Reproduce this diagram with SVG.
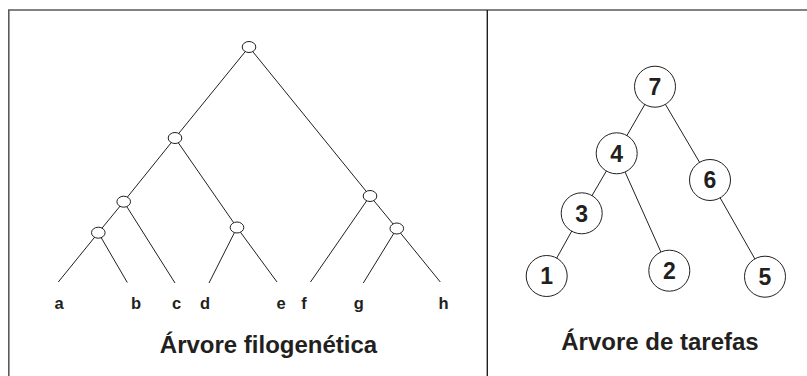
<svg xmlns="http://www.w3.org/2000/svg" width="807" height="376" viewBox="0 0 807 376">
  <style>
    .frame { fill: none; stroke: #5a5a5a; stroke-width: 1.6; }
    .divider { fill: none; stroke: #231f20; stroke-width: 1.4; }
    .edge { stroke: #231f20; stroke-width: 1; fill: none; }
    .pnode { fill: #ffffff; stroke: #231f20; stroke-width: 1; }
    .tnode { fill: #ffffff; stroke: #231f20; stroke-width: 1; }
    .leaf { font-family: "Liberation Sans", Arial, sans-serif; font-weight: bold; font-size: 16.5px; fill: #231f20; text-anchor: middle; }
    .num { font-family: "Liberation Sans", Arial, sans-serif; font-weight: bold; font-size: 23px; fill: #231f20; text-anchor: middle; }
    .caption { font-family: "Liberation Sans", Arial, sans-serif; font-weight: bold; font-size: 24px; fill: #231f20; text-anchor: middle; }
  </style>
  <rect width="807" height="376" fill="#ffffff"/>

  <!-- panel frame -->
  <g id="frame">
    <path class="frame" d="M8.8,376 V10 H807"/>
    <line class="divider" x1="487.3" y1="10" x2="487.3" y2="376"/>
  </g>

  <!-- phylogenetic tree: branches -->
  <g id="phylo-edges">
    <line class="edge" x1="249" y1="47" x2="175" y2="138"/>
    <line class="edge" x1="249" y1="47" x2="370" y2="196"/>
    <line class="edge" x1="175" y1="138" x2="123.7" y2="201.7"/>
    <line class="edge" x1="175" y1="138" x2="237" y2="227.5"/>
    <line class="edge" x1="123.7" y1="201.7" x2="98.3" y2="232.7"/>
    <line class="edge" x1="123.7" y1="201.7" x2="175" y2="283"/>
    <line class="edge" x1="98.3" y1="232.7" x2="58.3" y2="282"/>
    <line class="edge" x1="98.3" y1="232.7" x2="127.3" y2="282.5"/>
    <line class="edge" x1="237" y1="227.5" x2="209" y2="283"/>
    <line class="edge" x1="237" y1="227.5" x2="277" y2="282"/>
    <line class="edge" x1="370" y1="196" x2="310.5" y2="282"/>
    <line class="edge" x1="370" y1="196" x2="396.8" y2="228.5"/>
    <line class="edge" x1="396.8" y1="228.5" x2="363.3" y2="283"/>
    <line class="edge" x1="396.8" y1="228.5" x2="440.3" y2="282"/>
  </g>

  <!-- phylogenetic tree: internal nodes -->
  <g id="p-root"><ellipse class="pnode" cx="249" cy="47" rx="6.8" ry="5.5"/></g>
  <g id="p-abcde"><ellipse class="pnode" cx="175" cy="138" rx="6.8" ry="5.5"/></g>
  <g id="p-abc"><ellipse class="pnode" cx="123.7" cy="201.7" rx="6.8" ry="5.5"/></g>
  <g id="p-ab"><ellipse class="pnode" cx="98.3" cy="232.7" rx="6.8" ry="5.5"/></g>
  <g id="p-de"><ellipse class="pnode" cx="237" cy="227.5" rx="6.8" ry="5.5"/></g>
  <g id="p-fgh"><ellipse class="pnode" cx="370" cy="196" rx="6.8" ry="5.5"/></g>
  <g id="p-gh"><ellipse class="pnode" cx="396.8" cy="228.5" rx="6.8" ry="5.5"/></g>

  <!-- phylogenetic tree: leaf labels -->
  <g id="p-leaves">
    <text class="leaf" x="59" y="309">a</text>
    <text class="leaf" x="136" y="309">b</text>
    <text class="leaf" x="176.5" y="309">c</text>
    <text class="leaf" x="205" y="309">d</text>
    <text class="leaf" x="281" y="309">e</text>
    <text class="leaf" x="304" y="309">f</text>
    <text class="leaf" x="358.7" y="309">g</text>
    <text class="leaf" x="443.6" y="309">h</text>
  </g>
  <text id="caption-left" class="caption" x="268.5" y="353">Árvore filogenética</text>

  <!-- task tree: edges -->
  <g id="task-edges">
    <line class="edge" x1="655" y1="86.7" x2="616.7" y2="153.3"/>
    <line class="edge" x1="655" y1="86.7" x2="710" y2="180"/>
    <line class="edge" x1="616.7" y1="153.3" x2="581.7" y2="213.3"/>
    <line class="edge" x1="616.7" y1="153.3" x2="669.3" y2="270.7"/>
    <line class="edge" x1="581.7" y1="213.3" x2="546.7" y2="276"/>
    <line class="edge" x1="710" y1="180" x2="765" y2="276.7"/>
  </g>

  <!-- task tree: nodes -->
  <g id="t7"><circle class="tnode" cx="655" cy="86.7" r="20.5"/><text class="num" x="655" y="95" >7</text></g>
  <g id="t4"><circle class="tnode" cx="616.7" cy="153.3" r="20.5"/><text class="num" x="616.7" y="161.6">4</text></g>
  <g id="t6"><circle class="tnode" cx="710" cy="180" r="20.5"/><text class="num" x="710" y="188.3">6</text></g>
  <g id="t3"><circle class="tnode" cx="581.7" cy="213.3" r="20.5"/><text class="num" x="581.7" y="221.6">3</text></g>
  <g id="t1"><circle class="tnode" cx="546.7" cy="276" r="20.5"/><text class="num" x="546.7" y="284.3">1</text></g>
  <g id="t2"><circle class="tnode" cx="669.3" cy="270.7" r="20.5"/><text class="num" x="669.3" y="279">2</text></g>
  <g id="t5"><circle class="tnode" cx="765" cy="276.7" r="20.5"/><text class="num" x="765" y="285">5</text></g>

  <text id="caption-right" class="caption" x="660" y="350">Árvore de tarefas</text>
</svg>
